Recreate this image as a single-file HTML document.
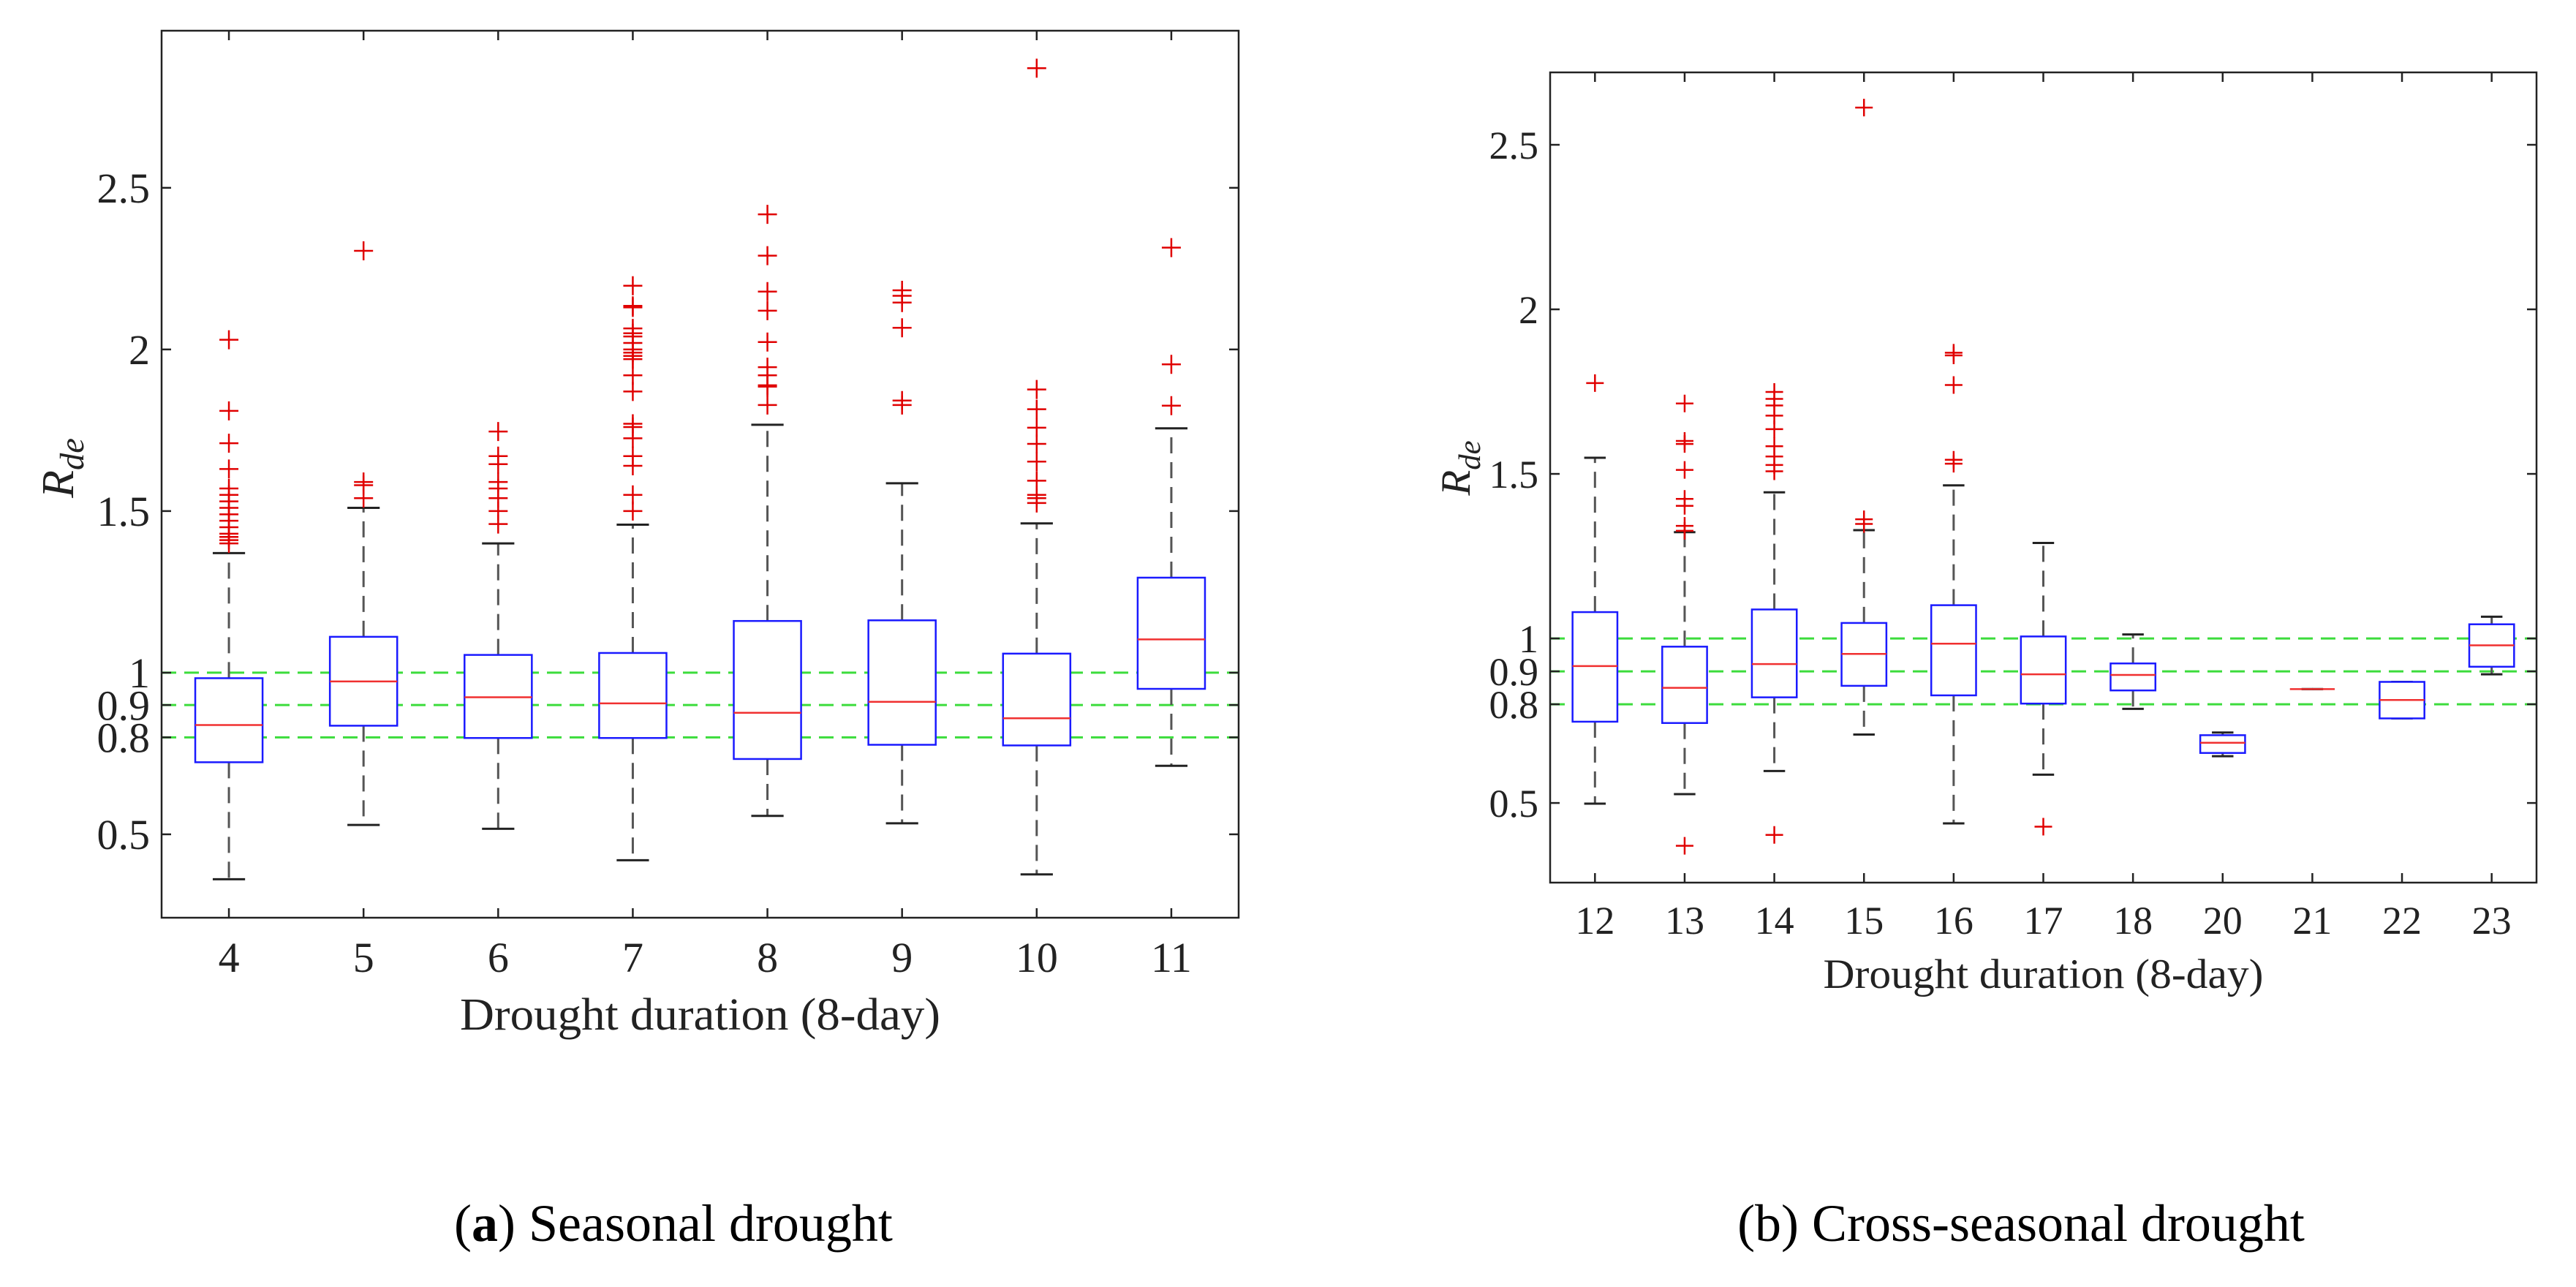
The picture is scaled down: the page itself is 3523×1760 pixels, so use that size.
<!DOCTYPE html>
<html><head><meta charset="utf-8"><style>
html,body{margin:0;padding:0;background:#fff;}
svg{display:block;font-family:"Liberation Serif",serif;}
</style></head><body>
<svg id="fig" width="3523" height="1760" viewBox="0 0 3523 1760" xmlns="http://www.w3.org/2000/svg">
<rect x="0" y="0" width="3523" height="1760" fill="#fff"/>
<text x="921" y="1697" font-size="72" text-anchor="middle">(<tspan font-weight="bold">a</tspan>) Seasonal drought</text>
<text x="2764" y="1697" font-size="72" text-anchor="middle">(b) Cross-seasonal drought</text>
</svg>
<script>
// ---- Panel (a) data ----
const catsA = ["4","5","6","7","8","9","10","11"];
const q1A = [0.723,0.836,0.798,0.798,0.733,0.777,0.775,0.950];
const q3A = [0.983,1.111,1.055,1.061,1.160,1.162,1.059,1.294];
const medA = [0.838,0.973,0.924,0.905,0.876,0.910,0.859,1.103];
const wLoA = [0.361,0.529,0.517,0.420,0.557,0.534,0.376,0.712];
const wHiA = [1.370,1.510,1.400,1.458,1.767,1.586,1.462,1.756];
const outA = [
 [1.40,1.41,1.42,1.43,1.45,1.47,1.49,1.51,1.53,1.55,1.57,1.63,1.71,1.81,2.03],
 [1.54,1.58,1.59,2.305],
 [1.46,1.50,1.54,1.57,1.59,1.645,1.67,1.746],
 [1.50,1.55,1.64,1.67,1.725,1.76,1.77,1.87,1.92,1.97,1.98,1.99,2.00,2.02,2.04,2.05,2.065,2.13,2.135,2.197],
 [1.828,1.885,1.889,1.92,1.945,2.023,2.12,2.179,2.29,2.418],
 [1.828,1.842,2.067,2.145,2.166,2.183],
 [1.525,1.54,1.55,1.594,1.653,1.708,1.758,1.815,1.876,2.87],
 [1.826,1.954,2.315]
];
const yTicksA = [0.5,0.8,0.9,1,1.5,2,2.5];
const yTickLabelsA = ["0.5","0.8","0.9","1","1.5","2","2.5"];
const refLinesA = [0.8,0.9,1.0];

// ---- Panel (b) data ----
const catsB = ["12","13","14","15","16","17","18","20","21","22","23"];
const q1B = [0.747,0.743,0.821,0.856,0.827,0.802,0.842,0.652,0.846,0.757,0.914];
const q3B = [1.080,0.975,1.088,1.047,1.101,1.006,0.924,0.706,0.846,0.868,1.043];
const medB = [0.916,0.850,0.922,0.953,0.984,0.891,0.889,0.683,0.846,0.813,0.979];
const wLoB = [0.498,0.527,0.597,0.708,0.438,0.586,0.786,0.642,0.846,0.757,0.891];
const wHiB = [1.549,1.323,1.444,1.329,1.465,1.290,1.012,0.714,0.846,0.868,1.066];
const outB = [
 [1.776],
 [0.37,1.327,1.342,1.403,1.424,1.512,1.591,1.60,1.714],
 [0.403,1.508,1.527,1.553,1.584,1.636,1.677,1.708,1.728,1.749],
 [1.348,1.362,2.613],
 [1.531,1.543,1.77,1.86,1.868],
 [0.428],[],[],[],[],[]
];
const yTicksB = [0.5,0.8,0.9,1,1.5,2,2.5];
const yTickLabelsB = ["0.5","0.8","0.9","1","1.5","2","2.5"];
const refLinesB = [0.8,0.9,1.0];

const NS="http://www.w3.org/2000/svg";
const svg=document.getElementById('fig');
function mk(tag,attrs,parent){const e=document.createElementNS(NS,tag);for(const k in attrs)e.setAttribute(k,attrs[k]);(parent||svg).appendChild(e);return e;}

function panel(p){
 const g=mk('g',{});
 
 
 const n=p.cats.length, sp=(p.x1-p.x0)/n;
 const X=i=>p.x0+(i+0.5)*sp;
 const Y=v=>p.y1-(v-p.vmin)/(p.vmax-p.vmin)*(p.y1-p.y0);
 // reference lines
 p.ref.forEach(v=>{const l=mk('line',{x1:p.x0,x2:p.x1,y1:Y(v),y2:Y(v),stroke:'#3cdc3c','stroke-width':3,'stroke-dasharray':'20 11'},g);
  
  });
 for(let i=0;i<n;i++){
  const cx=X(i), bw=sp*0.5, cw=sp*0.24;
  const bg=mk('g',{},g);
  
  
  mk('line',{x1:cx,x2:cx,y1:Y(p.q3[i]),y2:Y(p.whi[i]),stroke:'#555','stroke-width':3,'stroke-dasharray':'22 12'},bg);
  mk('line',{x1:cx,x2:cx,y1:Y(p.q1[i]),y2:Y(p.wlo[i]),stroke:'#555','stroke-width':3,'stroke-dasharray':'22 12'},bg);
  mk('line',{x1:cx-cw/2,x2:cx+cw/2,y1:Y(p.whi[i]),y2:Y(p.whi[i]),stroke:'#222','stroke-width':3},bg);
  mk('line',{x1:cx-cw/2,x2:cx+cw/2,y1:Y(p.wlo[i]),y2:Y(p.wlo[i]),stroke:'#222','stroke-width':3},bg);
  if(p.q3[i]>p.q1[i]) mk('rect',{x:cx-bw/2,y:Y(p.q3[i]),width:bw,height:Y(p.q1[i])-Y(p.q3[i]),fill:'#fff',stroke:'#1a1aff','stroke-width':2.5},bg);
  mk('line',{x1:cx-bw/2,x2:cx+bw/2,y1:Y(p.med[i]),y2:Y(p.med[i]),stroke:'#f03030','stroke-width':2.5},bg);
  p.out[i].forEach(v=>{const s=p.ps;
   const o=mk('path',{d:`M${cx-s} ${Y(v)}H${cx+s}M${cx} ${Y(v)-s}V${Y(v)+s}`,stroke:'#e00000','stroke-width':2.5,fill:'none'},bg);
   
   });
 }
 // axes frame
 const fr=mk('rect',{x:p.x0,y:p.y0,width:p.x1-p.x0,height:p.y1-p.y0,fill:'none',stroke:'#222','stroke-width':2.5},g);
 
 
 // x ticks
 for(let i=0;i<n;i++){const cx=X(i);
  mk('line',{x1:cx,x2:cx,y1:p.y1,y2:p.y1-13,stroke:'#222','stroke-width':2.5},g);
  mk('line',{x1:cx,x2:cx,y1:p.y0,y2:p.y0+13,stroke:'#222','stroke-width':2.5},g);
  const t=mk('text',{x:cx,y:p.xtY,'font-size':p.tf,'text-anchor':'middle',fill:'#222'},g);
  t.textContent=p.cats[i];
  
  }
 // y ticks
 p.yt.forEach((v,j)=>{const y=Y(v);
  mk('line',{x1:p.x0,x2:p.x0+13,y1:y,y2:y,stroke:'#222','stroke-width':2.5},g);
  mk('line',{x1:p.x1,x2:p.x1-13,y1:y,y2:y,stroke:'#222','stroke-width':2.5},g);
  const t=mk('text',{x:p.x0-16,y:y+p.tf*0.35,'font-size':p.tf,'text-anchor':'end',fill:'#222'},g);
  t.textContent=p.ytl[j];
  
  });
 const xl=mk('text',{x:(p.x0+p.x1)/2,y:p.xlY,'font-size':p.lf,'text-anchor':'middle',fill:'#222',textLength:p.xlW,lengthAdjust:'spacingAndGlyphs'},g);
 xl.textContent='Drought duration (8-day)';
 
 
 const yl=mk('text',{x:0,y:0,'font-size':p.lf,'text-anchor':'middle','font-style':'italic',fill:'#222',transform:`translate(${p.ylX},${p.ylY}) rotate(-90)`},g);
 yl.innerHTML='R<tspan font-size="'+(p.lf*0.75)+'" dy="14">de</tspan>';
 
 
}
panel({name:'chart-seasonal',cats:catsA,q1:q1A,q3:q3A,med:medA,wlo:wLoA,whi:wHiA,out:outA,yt:yTicksA,ytl:yTickLabelsA,ref:refLinesA,
 x0:221,x1:1694,y0:42,y1:1255,vmin:0.242,vmax:2.986,ps:13,tf:58,lf:62,xtY:1329,xlY:1408,xlW:657,ylX:100,ylY:640});
panel({name:'chart-cross-seasonal',cats:catsB,q1:q1B,q3:q3B,med:medB,wlo:wLoB,whi:wHiB,out:outB,yt:yTicksB,ytl:yTickLabelsB,ref:refLinesB,
 x0:2120,x1:3469,y0:99,y1:1207,vmin:0.258,vmax:2.72,ps:12,tf:54,lf:57,xtY:1277,xlY:1351,xlW:602,ylX:2010,ylY:640});
</script>
</body></html>
